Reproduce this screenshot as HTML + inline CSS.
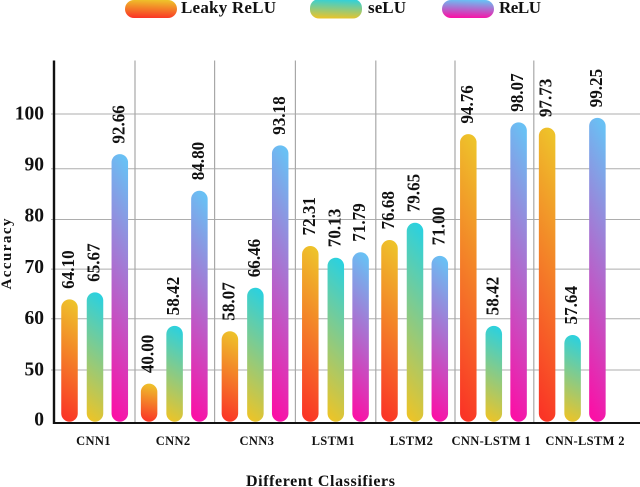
<!DOCTYPE html>
<html lang="en">
<head>
<meta charset="utf-8">
<title>Accuracy by classifier and activation function</title>
<style>
  html, body { margin: 0; padding: 0; background: #fff; }
  #chart { display: block; width: 640px; height: 487px; }
  text { font-family: "Liberation Serif", serif; font-weight: bold; fill: #111; }
</style>
</head>
<body>
<svg id="chart" xmlns="http://www.w3.org/2000/svg" width="640" height="487" viewBox="0 0 640 487">
  <defs>
    <linearGradient id="grad-leaky" x1="0.55" y1="0" x2="0.45" y2="1">
      <stop offset="0" stop-color="#EEC22A"/>
      <stop offset="1" stop-color="#FA3526"/>
    </linearGradient>
    <linearGradient id="grad-selu" x1="0.55" y1="0" x2="0.45" y2="1">
      <stop offset="0" stop-color="#2CD1DE"/>
      <stop offset="1" stop-color="#EAC42A"/>
    </linearGradient>
    <linearGradient id="grad-relu" x1="0.55" y1="0" x2="0.45" y2="1">
      <stop offset="0" stop-color="#69C0F4"/>
      <stop offset="1" stop-color="#FA11A6"/>
    </linearGradient>
  </defs>
  <g id="grid"></g>
  <g id="bars"></g>
  <g id="axes"></g>
  <g id="legend"></g>
  <text transform="translate(11 254) rotate(-90)" text-anchor="middle" font-size="15" textLength="71" lengthAdjust="spacing">Accuracy</text>
  <text x="320.5" y="486" text-anchor="middle" font-size="16" textLength="149" lengthAdjust="spacing">Different Classifiers</text>
</svg>
<script>
const categories = ["CNN1", "CNN2", "CNN3", "LSTM1", "LSTM2", "CNN-LSTM 1", "CNN-LSTM 2"];
const seriesNames = ["Leaky ReLU", "seLU", "ReLU"];
const leakyReluValues = [64.10, 40.00, 58.07, 72.31, 76.68, 94.76, 97.73];
const seluValues = [65.67, 58.42, 66.46, 70.13, 79.65, 58.42, 57.64];
const reluValues = [92.66, 84.80, 93.18, 71.79, 71.00, 98.07, 99.25];
/* The source figure's bars differ slightly from their printed values. */
const leakyReluDrawnDelta = [-0.3, -2.9, -0.5, 1.9, -1.3, 1.3, -0.4];
const seluDrawnDelta = [-0.5, 0.2, -0.4, 1.8, -0.9, 0.2, -0.8];
const reluDrawnDelta = [-0.5, 0.2, 0.7, 1.2, 1.3, 0.3, 0.0];
const yTickLabels = [0, 50, 60, 70, 80, 90, 100];
/* Gridlines in the source sit slightly off the tick labels. */
const gridLineValues = [50, 60, 69.7, 79.4, 89.3, 100];

const NS = "http://www.w3.org/2000/svg";
const gridLayer = document.getElementById("grid");
const barLayer = document.getElementById("bars");
const axisLayer = document.getElementById("axes");
const legendLayer = document.getElementById("legend");

function yScale(v) {
  return v >= 50 ? 370 - (v - 50) * 5.12 : 370 + (50 - v) * 1.06;
}
function groupCenter(i) {
  const bulge = i === 2 ? 1.2 : i === 3 ? 2 : i === 4 ? 1.6 : i === 5 ? 0.8 : 0;
  return 95 + i * 79.6 + bulge;
}
function seriesCenter(i, s) {
  return groupCenter(i) + (s === 0 ? -25.5 : s === 2 ? 24.8 : 0);
}
function categoryNudge(i) {
  return i === 6 ? 14 : i === 2 ? 3 : i === 3 ? -1 : i === 4 ? -2 : i === 5 ? -1 : 0;
}
function make(tag, attrs, parent) {
  const el = document.createElementNS(NS, tag);
  for (const k in attrs) el.setAttribute(k, attrs[k]);
  parent.appendChild(el);
  return el;
}

const plotLeft = 54, plotRight = 640, plotTop = 60.5, baseline = 423;
const barWidth = 16.5, barBottom = 421.7;

gridLineValues.forEach(function (v) {
  const line = make("line", { x1: plotLeft - 3, x2: plotRight, y1: yScale(v), y2: yScale(v), stroke: "#adadad", "stroke-width": 1 }, gridLayer);
  
  
});
categories.forEach(function (c, i) {
  if (i === categories.length - 1) return;
  const sx = groupCenter(i) + 40;
  const line = make("line", { x1: sx, x2: sx, y1: plotTop, y2: baseline, stroke: "#a8a8a8", "stroke-width": 1.2 }, gridLayer);
  
  
});

const seriesValues = [leakyReluValues, seluValues, reluValues];
const seriesDeltas = [leakyReluDrawnDelta, seluDrawnDelta, reluDrawnDelta];
const seriesGradients = ["grad-leaky", "grad-selu", "grad-relu"];

seriesValues.forEach(function (values, s) {
  values.forEach(function (v, i) {
    const cx = seriesCenter(i, s);
    const top = yScale(v + seriesDeltas[s][i]);
    const bar = make("rect", {
      x: cx - barWidth / 2, y: top, width: barWidth, height: barBottom - top,
      rx: barWidth / 2, ry: barWidth / 2, fill: "url(#" + seriesGradients[s] + ")"
    }, barLayer);
    
    

    const tx = cx + 4.6, ty = top - 10.5;
    const label = make("text", {
      transform: "translate(" + tx + " " + ty + ") rotate(-90)",
      "font-size": 18, textLength: 38.5, lengthAdjust: "spacingAndGlyphs"
    }, barLayer);
    label.textContent = v.toFixed(2);
    
    
  });
});

const yAxis = make("line", { x1: plotLeft, x2: plotLeft, y1: plotTop, y2: baseline + 1, stroke: "#111", "stroke-width": 2.4 }, axisLayer);


const xAxis = make("line", { x1: plotLeft - 1, x2: plotRight, y1: baseline, y2: baseline, stroke: "#111", "stroke-width": 2 }, axisLayer);



yTickLabels.forEach(function (t) {
  const label = make("text", { x: 44, y: t === 0 ? 425.7 : yScale(t) + 5.3, "text-anchor": "end", "font-size": 19.5 }, axisLayer);
  label.textContent = t;
  
  
});

categories.forEach(function (c, i) {
  const label = make("text", { x: groupCenter(i) - 1.5 + categoryNudge(i), y: 445, "text-anchor": "middle", "font-size": 12.5, "letter-spacing": 0.35 }, axisLayer);
  label.textContent = c;
  
  
});

const legendSwatchX = [125, 310, 442];
const legendTextX = [181, 368, 499];
const legendTextLen = [95, 38, 42];
seriesNames.forEach(function (name, s) {
  const swatch = make("rect", { x: legendSwatchX[s], y: s === 1 ? -1 : 0, width: 52, height: s === 1 ? 19.5 : 18, rx: 9, ry: 9, fill: "url(#" + seriesGradients[s] + ")" }, legendLayer);
  
  
  const label = make("text", { x: legendTextX[s], y: 13, "font-size": 17, textLength: legendTextLen[s], lengthAdjust: "spacing" }, legendLayer);
  label.textContent = name;
  
  
});
</script>
</body>
</html>
